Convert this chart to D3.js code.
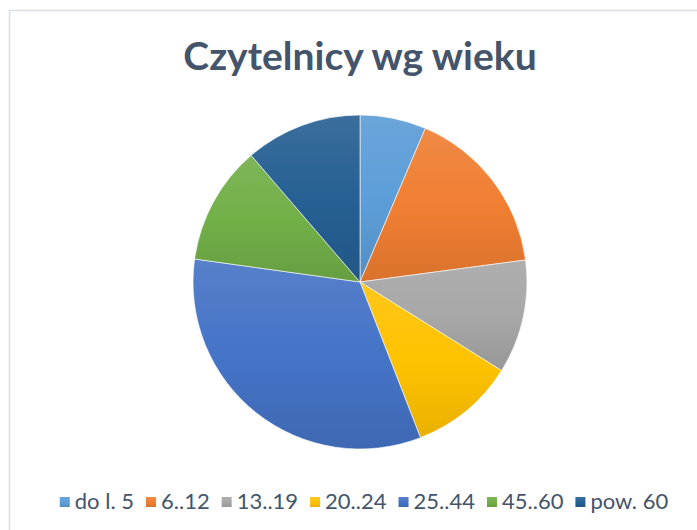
<!DOCTYPE html>
<html>
<head>
<meta charset="utf-8">
<script src="https://cdn.jsdelivr.net/npm/d3@7"></script>
<style>
  body { margin: 0; background: #fff; }
  svg { display: block; }
</style>
</head>
<body>
<svg></svg>
<script>
var categories = ["do l. 5", "6..12", "13..19", "20..24", "25..44", "45..60", "pow. 60"];
var values = [6.4, 16.5, 11.0, 10.2, 33.1, 11.5, 11.3];
var colors = ["#5B9BD5", "#ED7D31", "#A5A5A5", "#FFC000", "#4472C4", "#70AD47", "#255E91"];
var title = "Czytelnicy wg wieku";

var width = 697, height = 530;
var cx = 360, cy = 282, radius = 167;
var textColor = "#44546A";

var svg = d3.select("svg")
    .attr("width", width)
    .attr("height", height);

// chart frame
svg.append("rect")
    .attr("x", 9.5).attr("y", 10.5)
    .attr("width", 720).attr("height", 560)
    .attr("fill", "#fff")
    .attr("stroke", "#D9DEE6")
    .attr("stroke-width", 1.5);

var defs = svg.append("defs");
colors.forEach(function(c, i) {
    var g = defs.append("linearGradient")
        .attr("id", "grad" + i)
        .attr("x1", 0).attr("y1", 0).attr("x2", 0).attr("y2", 1);
    g.append("stop").attr("offset", "0%").attr("stop-color", d3.interpolateRgb(c, "#fff")(0.1));
    g.append("stop").attr("offset", "50%").attr("stop-color", d3.color(c).brighter(0.05));
    g.append("stop").attr("offset", "100%").attr("stop-color", d3.color(c).darker(0.25));
});

svg.append("text")
    .attr("x", 360).attr("y", 70)
    .attr("text-anchor", "middle")
    .attr("font-family", "Lato, 'Open Sans', sans-serif")
    .attr("font-weight", "bold")
    .attr("font-size", 39)
    .attr("fill", textColor)
    .text(title);

var pie = d3.pie().sort(null).value(function(d) { return d; });
var arc = d3.arc().innerRadius(0).outerRadius(radius);

svg.append("g")
    .attr("transform", "translate(" + cx + "," + cy + ")")
    .selectAll("path")
    .data(pie(values))
    .enter().append("path")
    .attr("d", arc)
    .attr("fill", function(d, i) { return "url(#grad" + i + ")"; })
    .attr("stroke", "#fff")
    .attr("stroke-width", 0.6);

// legend
var legend = svg.append("g");
var item = legend.selectAll("g")
    .data(categories)
    .enter().append("g");

item.append("rect")
    .attr("width", 10).attr("height", 10)
    .attr("y", -12)
    .attr("fill", function(d, i) { return "url(#grad" + i + ")"; });

item.append("text")
    .attr("x", 15)
    .attr("font-family", "Lato, 'Open Sans', sans-serif")
    .attr("font-size", 22)
    .attr("fill", textColor)
    .text(function(d) { return d; });

var xpos = 0;
item.each(function() {
    var w = 15 + d3.select(this).select("text").node().getComputedTextLength();
    d3.select(this).attr("transform", "translate(" + xpos + ",0)");
    xpos += w + 12;
});
var total = xpos - 12;
legend.attr("transform", "translate(" + (364 - total / 2) + ",509)");
</script>
</body>
</html>
